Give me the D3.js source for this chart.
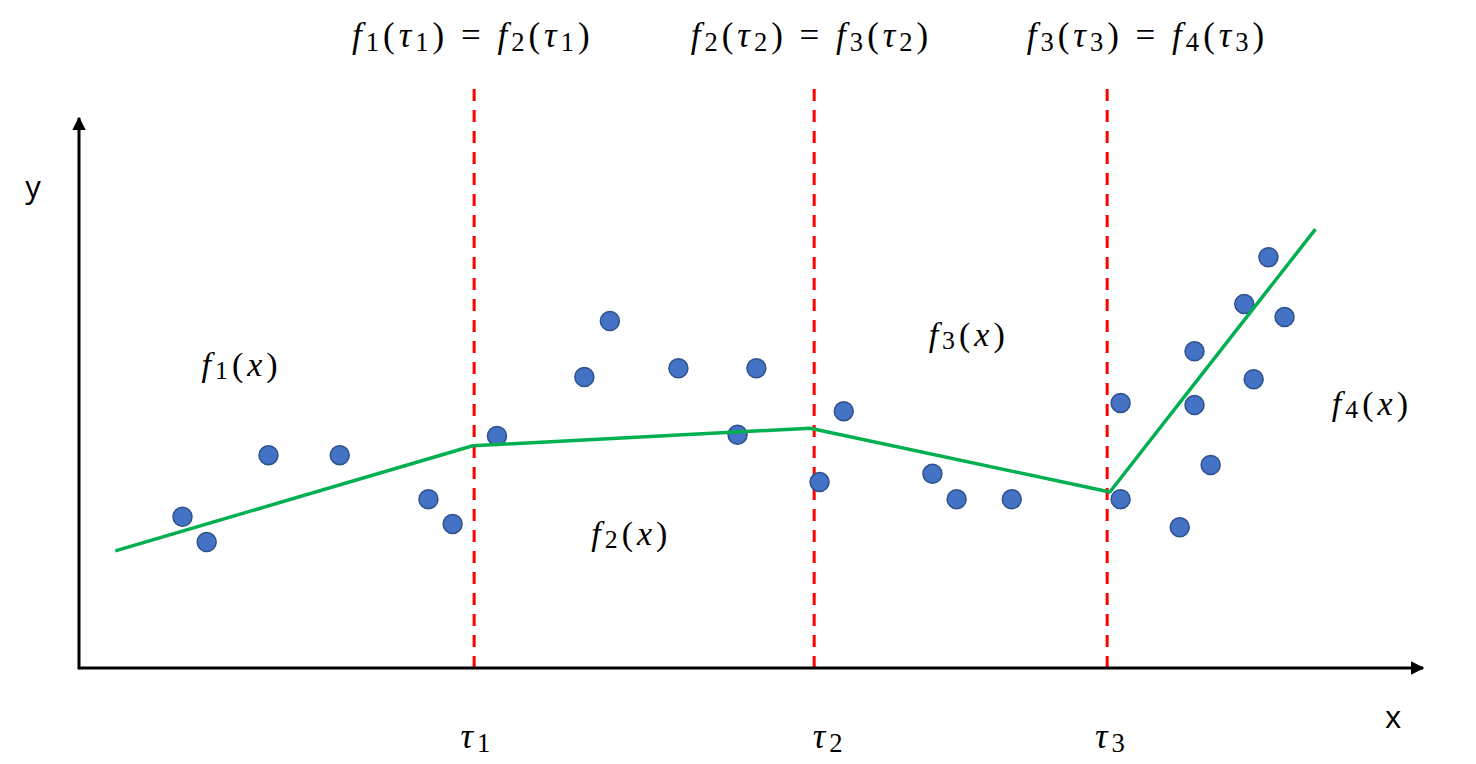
<!DOCTYPE html>
<meta charset="utf-8">
<style>
body { margin: 0; background: #fff; }
.math { font-family: "Liberation Serif", "DejaVu Serif", serif; fill: #000; letter-spacing: 4px; }
.axis-label { font-family: "Open Sans", "Liberation Sans", sans-serif; font-size: 31px; fill: #000; }
</style>
<body>
<div id="chart"></div>
<script src="https://cdn.jsdelivr.net/npm/d3@7"></script>
<script>

// observed points (x, y in data units, 0..100 on both axes)
var ptsX = [7.7, 9.5, 14.1, 19.4, 26.0, 27.8, 31.1, 37.6, 39.5, 44.6, 50.4, 49.0, 56.9, 55.1,
            63.5, 65.3, 69.4, 77.5, 77.5, 81.9, 83.0, 83.0, 84.2, 87.4, 86.7, 88.5, 89.7];
var ptsY = [27.5, 22.9, 38.7, 38.7, 30.7, 26.2, 42.2, 52.9, 63.1, 54.5, 54.5, 42.4, 46.7, 33.8,
            35.3, 30.7, 30.7, 48.2, 30.7, 25.6, 47.8, 57.6, 36.9, 52.5, 66.2, 74.7, 63.8];

// piecewise linear fit: knots
var fitX = [2.7, 29.3, 54.4, 76.7, 92.0];
var fitY = [21.3, 40.4, 43.6, 32.0, 79.8];

// break points
var tauX = [29.4, 54.7, 76.5];
var tauLabels = ["τ_1", "τ_2", "τ_3"];
var tauLabelX = [29.5, 55.7, 76.7];
var tauEqLabels = ["f_1(τ_1)=f_2(τ_1)", "f_2(τ_2)=f_3(τ_2)", "f_3(τ_3)=f_4(τ_3)"];
var tauEqX = [29.3, 54.5, 79.5];

// segment labels (position in data units)
var segLabels = ["f_1(x)", "f_2(x)", "f_3(x)", "f_4(x)"];
var segX = [12.1, 41.1, 66.2, 96.2];
var segY = [55.5, 24.8, 60.9, 48.4];

var width = 1476, height = 764;
var x0 = 79, x1 = 1423, yBottom = 668, yTop = 118;

var x = d3.scaleLinear().domain([0, 100]).range([x0, x1]);
var y = d3.scaleLinear().domain([0, 100]).range([yBottom, yTop]);

var svg = d3.select("#chart").append("svg")
    .attr("width", width)
    .attr("height", height);

svg.append("rect").attr("width", width).attr("height", height).attr("fill", "#fff");

var defs = svg.append("defs");
defs.append("marker")
    .attr("id", "arrow")
    .attr("viewBox", "0 0 10 10")
    .attr("refX", 9).attr("refY", 5)
    .attr("markerWidth", 4.5).attr("markerHeight", 4.5)
    .attr("markerUnits", "strokeWidth")
    .attr("orient", "auto")
  .append("path")
    .attr("d", "M0,0 L10,5 L0,10 z")
    .attr("fill", "#000");

// dashed break lines
svg.selectAll(".tau-line").data(tauX).enter().append("line")
    .attr("class", "tau-line")
    .attr("x1", d => x(d)).attr("x2", d => x(d))
    .attr("y1", y(0)).attr("y2", y(105.5))
    .attr("stroke", "#ff0000")
    .attr("stroke-width", 3)
    .attr("stroke-dasharray", "12,9");

// axes with arrows
svg.append("line")
    .attr("x1", x(0)).attr("y1", y(0))
    .attr("x2", x(100)).attr("y2", y(0))
    .attr("stroke", "#000").attr("stroke-width", 3)
    .attr("marker-end", "url(#arrow)");

svg.append("line")
    .attr("x1", x(0)).attr("y1", y(0) + 1.5)
    .attr("x2", x(0)).attr("y2", y(100))
    .attr("stroke", "#000").attr("stroke-width", 3)
    .attr("marker-end", "url(#arrow)");

// points
svg.selectAll(".pt").data(ptsX).enter().append("circle")
    .attr("class", "pt")
    .attr("cx", (d, i) => x(d))
    .attr("cy", (d, i) => y(ptsY[i]))
    .attr("r", 9.5)
    .attr("fill", "#4472c4")
    .attr("stroke", "#2f528f")
    .attr("stroke-width", 1.5);

// fitted line
var line = d3.line().x(d => x(d[0])).y(d => y(d[1]));
svg.append("path")
    .datum(fitX.map((d, i) => [d, fitY[i]]))
    .attr("d", line)
    .attr("fill", "none")
    .attr("stroke", "#00b050")
    .attr("stroke-width", 3.5)
    .attr("stroke-linejoin", "round");

// tiny math-ish text: letters italic, "_d" becomes a subscript digit
function mathText(sel, str, px, py, size) {
  var t = sel.append("text")
      .attr("class", "math")
      .attr("x", px).attr("y", py)
      .attr("text-anchor", "middle")
      .style("font-size", size + "px");
  var shift = 0;
  for (var i = 0; i < str.length; i++) {
    var c = str[i];
    if (c === "_") {
      var s = str[++i];
      t.append("tspan").text(s)
          .attr("dy", size * 0.1)
          .style("font-size", (size * 0.76) + "px");
      shift = size * 0.1;
      continue;
    }
    var ts = t.append("tspan").text(c === "=" ? "\u2005=\u2005" : c);
    if (shift) { ts.attr("dy", -shift); shift = 0; }
    if (/[a-zτ]/.test(c)) ts.style("font-style", "italic");
  }
  return t;
}

tauEqLabels.forEach(function(lbl, i) {
  mathText(svg, lbl, x(tauEqX[i]), 47, 35);
});

tauLabels.forEach(function(lbl, i) {
  mathText(svg, lbl, x(tauLabelX[i]) + 2, 748, 35);
});

segLabels.forEach(function(lbl, i) {
  mathText(svg, lbl, x(segX[i]), y(segY[i]) + 13, 34);
});

svg.append("text").attr("class", "axis-label")
    .attr("x", 33).attr("y", 198)
    .attr("text-anchor", "middle")
    .text("y");

svg.append("text").attr("class", "axis-label")
    .attr("x", 1393).attr("y", 728)
    .attr("text-anchor", "middle")
    .text("x");

</script>
